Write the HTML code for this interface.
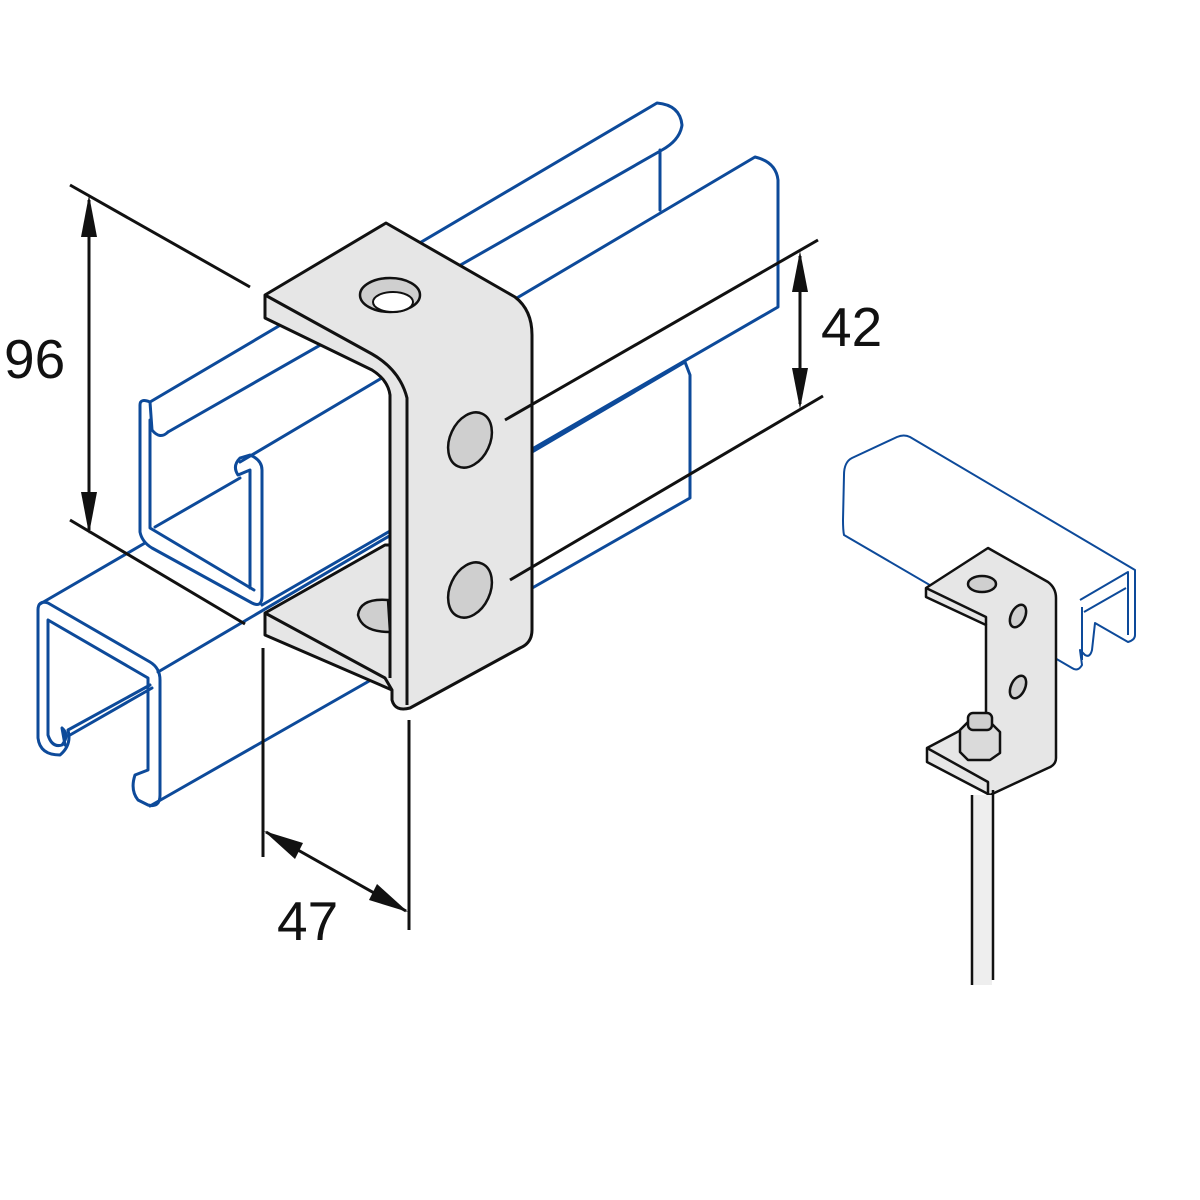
<!DOCTYPE html>
<html><head><meta charset="utf-8"><style>html,body{margin:0;padding:0;background:#fff}svg{display:block}</style></head>
<body>
<svg width="1200" height="1200" viewBox="0 0 1200 1200" xmlns="http://www.w3.org/2000/svg">
<g fill="none" stroke="#0d4a9a" stroke-width="3" stroke-linejoin="round" stroke-linecap="round">
<!-- upper channel -->
<path d="M150,402 L657,103 Q680,105 682,125 Q680,140 662,150 L168,432"/>
<path d="M660,150 L660,210"/>
<path d="M240,462 L755,157 Q776,162 778,180 L778,307 L262,605"/>
<path d="M140,405 Q140,398 150,402 L152,430 Q160,440 168,432 M140,405 L140,532 Q142,542 152,548 L252,603 Q262,608 262,596 L262,470 Q262,460 250,455 L240,458 Q232,466 238,475 L250,470 L250,588 M150,420 L150,528 L254,590"/>
<path d="M155,527 L240,478"/>
<!-- lower channel -->
<path d="M40,604 L145,543"/>
<path d="M38,610 Q38,600 48,603 L150,662 Q160,668 160,680 L160,795 Q160,808 148,805 L138,800 Q130,790 135,775 L148,770 L148,678 L48,620 L48,735 Q52,748 62,745 Q70,735 62,728 L65,745"/>
<path d="M38,610 L38,738 Q40,755 60,755 Q72,745 68,730 L150,685"/>
<path d="M70,735 L152,688"/>
<path d="M158,672 L685,362 L690,375 L690,498 L150,806"/>
</g>
<!-- bracket -->
<g stroke="#111" stroke-width="3" stroke-linejoin="round" fill="#e6e6e6">
<path d="M265,295 L386,223 L515,297 Q532,310 532,335 L532,630 Q532,643 520,648 L410,708 Q395,712 392,700 L392,690 L265,635 L265,613 L385,545 L390,545 L390,395 Q388,380 372,370 L265,318 Z"/>
<path d="M265,295 L372,354 Q400,370 407,398 L407,705" fill="none"/>
<path d="M265,613 L385,678 L392,690" fill="none"/>
<path d="M265,295 L265,318 M265,613 L265,635"/>
<path d="M390,545 L390,678" fill="none"/>
</g>
<g stroke="#111" stroke-width="2.5" fill="#cfcfcf">
<ellipse cx="390" cy="295" rx="30" ry="17"/>
<ellipse cx="470" cy="440" rx="20" ry="29" transform="rotate(25 470 440)"/>
<ellipse cx="470" cy="590" rx="20" ry="29" transform="rotate(25 470 590)"/>
<path d="M388,600 Q360,598 358,615 Q362,632 390,632 Z"/>
</g>
<ellipse cx="393" cy="302" rx="20" ry="10" fill="#fff" stroke="#111" stroke-width="2"/>
<!-- dimensions -->
<g stroke="#111" stroke-width="3" fill="none">
<line x1="70" y1="185" x2="250" y2="287"/>
<line x1="70" y1="520" x2="245" y2="624"/>
<line x1="89" y1="200" x2="89" y2="530"/>
<line x1="505" y1="420" x2="818" y2="240"/>
<line x1="510" y1="580" x2="823" y2="396"/>
<line x1="800" y1="256" x2="800" y2="404"/>
<line x1="263" y1="648" x2="263" y2="857"/>
<line x1="409" y1="720" x2="409" y2="930"/>
<line x1="266" y1="832" x2="406" y2="911"/>
</g>
<g fill="#111">
<polygon points="89,195 81,237 97,237"/>
<polygon points="89,534 81,492 97,492"/>
<polygon points="800,251 792,292 808,292"/>
<polygon points="800,409 792,368 808,368"/>
<polygon points="264,831 295,859 303,843"/>
<polygon points="408,912 369,900 377,884"/>
</g>
<g font-family="Liberation Sans, sans-serif" font-size="55" fill="#111">
<text x="4" y="378">96</text>
<text x="821" y="346">42</text>
<text x="277" y="940">47</text>
</g>
<!-- right figure -->
<g fill="none" stroke="#0d4a9a" stroke-width="2" stroke-linejoin="round">
<path d="M844,475 Q844,462 852,458 L897,437 Q904,434 910,437 L1135,570 L1135,635 Q1135,640 1128,642 L1095,623 L1092,650 Q1090,658 1085,655 L1080,650 L1082,665 Q1078,672 1072,668 L844,535 Q843,530 843,520 Z"/>
<path d="M1080,600 L1128,572 L1128,635 M1082,607 L1082,660 M1084,612 L1126,588"/>
</g>
<g stroke="#111" stroke-width="2.5" fill="#e6e6e6" stroke-linejoin="round">
<path d="M926,588 L988,548 L1048,582 Q1056,588 1056,598 L1056,758 Q1056,765 1048,768 L990,795 L927,762 L927,748 L980,720 L986,725 L986,625 L926,597 Z"/>
<path d="M926,588 L986,617 L986,625" fill="none"/>
<path d="M927,748 L988,782 L988,795" fill="none"/>
<ellipse cx="982" cy="584" rx="14" ry="8" fill="#cfcfcf"/>
<ellipse cx="1018" cy="616" rx="7" ry="12" fill="#cfcfcf" transform="rotate(25 1018 616)"/>
<ellipse cx="1018" cy="687" rx="7" ry="12" fill="#cfcfcf" transform="rotate(25 1018 687)"/>
<path d="M960,730 L968,722 L990,722 L1000,732 L1000,753 L990,760 L968,760 L960,752 Z" fill="#dadada"/>
<rect x="968" y="713" width="24" height="17" rx="5" fill="#cfcfcf"/>
</g>
<rect x="973" y="795" width="19" height="190" fill="#eeeeee"/>
<path d="M972,795 L972,985 M993,790 L993,980" stroke="#111" stroke-width="2.5"/>
</svg>
</body></html>
